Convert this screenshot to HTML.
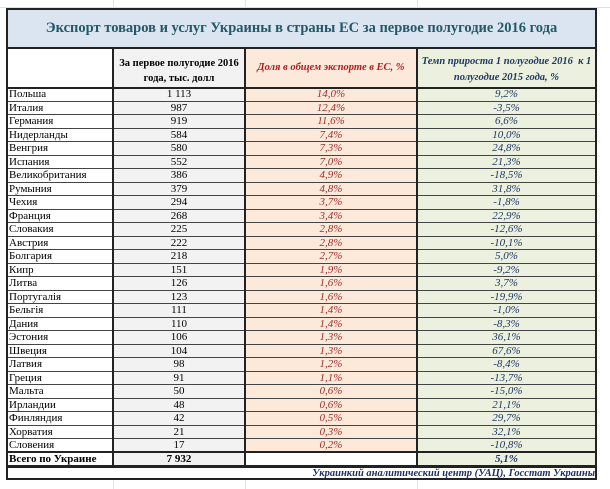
<!DOCTYPE html>
<html><head><meta charset="utf-8"><style>
body{margin:0;width:610px;height:489px;background:#fff;position:relative;overflow:hidden;font-family:"Liberation Serif","DejaVu Serif",serif;}
.a{position:absolute;box-sizing:border-box;}
.t{position:absolute;font-size:11px;line-height:13px;white-space:nowrap;}
</style></head><body>
<div class="a" style="left:0;top:0;width:610px;height:8px;border-bottom:1px solid #e0e0e0"></div>
<div class="a" style="left:113px;top:0;width:1px;height:489px;background:#e3e3e3"></div>
<div class="a" style="left:245px;top:0;width:1px;height:489px;background:#e3e3e3"></div>
<div class="a" style="left:417px;top:0;width:1px;height:489px;background:#e3e3e3"></div>
<!-- title -->
<div class="a" style="left:6px;top:8px;width:591px;height:40px;background:#dbe5f1;border:2px solid #222;border-bottom:1px solid #222;"></div>
<div class="t" style="left:6px;top:20px;width:591px;text-align:center;font-size:14.5px;line-height:16px;font-weight:bold;color:#215967;">Экспорт товаров и услуг Украины в страны ЕС за первое полугодие 2016 года</div>
<div class="a" style="left:6px;top:47px;width:591px;height:421px;border:2px solid #222;background:#fff;"></div>
<div class="a" style="left:113px;top:47px;width:132px;height:420px;background:#f2f2f2;"></div>
<div class="a" style="left:245px;top:47px;width:172px;height:405px;background:#fde9d9;"></div>
<div class="a" style="left:417px;top:47px;width:179px;height:420px;background:#ebf1de;"></div>
<div id="g"></div>
<div class="a" style="left:6px;top:466px;width:591px;height:14px;border:2px solid #222;background:#fff;"></div>
<div class="t" style="right:15px;top:467px;font-size:10.5px;font-weight:bold;font-style:italic;color:#1f2d5f;">Украинкий аналитический центр (УАЦ), Госстат Украины</div>
<div class="t" style="left:113px;top:56px;width:132px;text-align:center;font-weight:bold;font-size:10.5px;line-height:15px;white-space:normal;">За первое полугодие 2016 года, тыс. долл</div>
<div class="t" style="left:245px;top:61px;width:172px;text-align:center;font-weight:bold;font-style:italic;font-size:10.5px;color:#b01e22;">Доля в общем экспорте в ЕС, %</div>
<div class="t" style="left:417px;top:54px;width:179px;text-align:center;font-weight:bold;font-style:italic;font-size:10.5px;line-height:16px;white-space:normal;color:#1f3864;">Темп прироста 1 полугодие 2016 &nbsp;к 1 полугодие 2015 года, %</div>
<script>
var d=[["Польша","1 113","14,0%","9,2%"],["Италия","987","12,4%","-3,5%"],["Германия","919","11,6%","6,6%"],["Нидерланды","584","7,4%","10,0%"],["Венгрия","580","7,3%","24,8%"],["Испания","552","7,0%","21,3%"],["Великобритания","386","4,9%","-18,5%"],["Румыния","379","4,8%","31,8%"],["Чехия","294","3,7%","-1,8%"],["Франция","268","3,4%","22,9%"],["Словакия","225","2,8%","-12,6%"],["Австрия","222","2,8%","-10,1%"],["Болгария","218","2,7%","5,0%"],["Кипр","151","1,9%","-9,2%"],["Литва","126","1,6%","3,7%"],["Португалія","123","1,6%","-19,9%"],["Бельгія","111","1,4%","-1,0%"],["Дания","110","1,4%","-8,3%"],["Эстония","106","1,3%","36,1%"],["Швеция","104","1,3%","67,6%"],["Латвия","98","1,2%","-8,4%"],["Греция","91","1,1%","-13,7%"],["Мальта","50","0,6%","-15,0%"],["Ирландии","48","0,6%","21,1%"],["Финляндия","42","0,5%","29,7%"],["Хорватия","21","0,3%","32,1%"],["Словения","17","0,2%","-10,8%"]];
var h="",R=365/27;
h+='<div class="a" style="left:6px;top:87px;width:591px;height:2px;background:#222"></div>';
for(var i=0;i<d.length;i++){var y=87+i*R;
h+='<div class="a" style="left:6px;top:'+(y+R)+'px;width:591px;height:1px;background:#444"></div>';
h+='<div class="t" style="left:9px;top:'+(y+1)+'px;">'+d[i][0]+'</div>';
h+='<div class="t" style="left:113px;width:132px;text-align:center;top:'+(y+1)+'px;">'+d[i][1]+'</div>';
h+='<div class="t" style="left:245px;width:172px;text-align:center;top:'+(y+1)+'px;font-style:italic;color:#a0302d;">'+d[i][2]+'</div>';
h+='<div class="t" style="left:417px;width:179px;text-align:center;top:'+(y+1)+'px;font-style:italic;color:#1f3864;">'+d[i][3]+'</div>';}
h+='<div class="a" style="left:6px;top:451px;width:591px;height:2px;background:#222"></div>';
h+='<div class="t" style="left:9px;top:453px;font-weight:bold;">Всего по Украине</div>';
h+='<div class="t" style="left:113px;width:132px;text-align:center;top:453px;font-weight:bold;">7 932</div>';
h+='<div class="t" style="left:417px;width:179px;text-align:center;top:453px;font-weight:bold;font-style:italic;color:#1f3864;">5,1%</div>';
[113,245,417].forEach(function(x){h+='<div class="a" style="left:'+(x-1)+'px;top:47px;width:2px;height:420px;background:#222"></div>';});
h+='<div class="a" style="left:6px;top:47px;width:591px;height:420px;border:2px solid #222;"></div>';
document.getElementById("g").innerHTML=h;
</script>
</body></html>
